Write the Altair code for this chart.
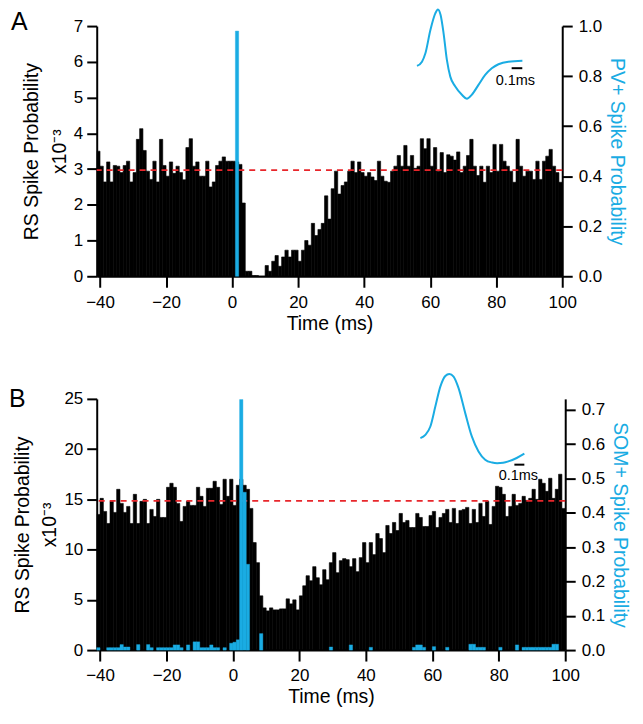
import altair as alt
import pandas as pd

FONT = "Liberation Sans"
BLUE = "#1aace3"
RED = "#e8262b"

# 1-ms bins, start times (ms)
bin_start = list(range(-41, 100))

# ---------------- Panel A (PV+) ----------------
rs_a = [
    3.5, 3.08, 2.64, 3.2, 2.64, 3.1, 3.08, 2.9, 3.1, 3.22,
    2.64, 2.9, 3.83, 4.13, 3.52, 2.94, 2.71, 3.22, 2.64, 3.83,
    3.1, 2.8, 3.2, 2.88, 3.08, 2.9, 2.7, 3.6, 3.85, 3.08,
    3.2, 2.8, 2.8, 3.22, 2.5, 2.64, 3.1, 3.22, 3.34, 3.22,
    3.22,
    3.22, 3.2, 3.13, 2.05, 0.14, 0.14, 0.02, 0.02, 0.0, 0.0,
    0.3, 0.14, 0.42, 0.58, 0.28, 0.54, 0.73, 0.54, 0.73, 0.73,
    0.42, 0.73, 1.0, 0.87, 1.48, 1.14, 1.31, 1.48,
    2.25, 1.6, 2.45, 2.94, 2.3, 2.54, 2.64, 2.94, 3.22, 2.9,
    3.2, 2.9, 2.8, 2.9, 2.78, 2.68, 3.22, 2.8, 2.66, 2.63,
    2.94, 3.08, 3.38, 3.08, 3.66, 3.08, 3.38, 3.02, 3.08, 3.85,
    3.57, 3.85, 3.08, 3.6, 2.94, 3.46, 2.9, 3.4, 3.36, 3.25,
    3.48, 2.9, 3.08, 3.38, 3.83, 3.08, 2.82, 3.08, 2.63, 3.08,
    2.9, 3.69, 2.94, 3.69, 3.22, 3.08, 2.94, 2.63, 3.83, 3.08,
    2.8, 2.94, 2.94, 2.71, 3.22, 2.71, 3.22, 3.36, 3.55, 3.08,
    2.9, 2.63,
]
pv_bin_a = [1]
pv_prob_a = [0.98]
baseline_a = 2.97

wave_a_t = [0, 0.047, 0.079, 0.126, 0.172, 0.197, 0.222, 0.25, 0.281, 0.313,
            0.36, 0.422, 0.469, 0.515, 0.578, 0.641, 0.703, 0.766, 0.859, 0.991]
wave_a_v = [0, 0.076, 0.224, 0.635, 0.929, 1.0, 0.90, 0.577, 0.106, -0.189,
            -0.365, -0.511, -0.582, -0.511, -0.335, -0.159, -0.041, 0.03, 0.076, 0.093]
scalebar_a = [0.89, 0.99, -0.04]      # start, end (ms), level
scalelabel_a = [0.925, -0.26]

# ---------------- Panel B (SOM+) ----------------
rs_b = [
    13.5, 15.1, 13.8, 12.6, 14.8, 13.7, 16.0, 14.6, 13.7, 14.3,
    12.6, 15.5, 12.6, 14.8, 15.0, 12.6, 14.0, 13.3, 15.0, 13.2,
    13.2, 16.2, 16.6, 16.2, 14.6, 12.8, 14.3, 14.8, 14.4, 14.4,
    16.2, 15.3, 14.3, 16.1, 16.1, 16.8, 16.2, 14.5, 17.0, 15.3,
    17.0,
    14.4, 16.4, 17.0, 16.4, 16.0, 14.1, 10.7, 8.7, 5.4,
    4.2, 3.9, 4.2, 4.0, 4.0, 4.1, 4.1, 5.1, 4.6, 5.0,
    4.0, 5.4, 6.4, 7.4, 6.9, 8.3, 7.2,
    6.5, 8.0, 7.0, 8.7, 9.7, 7.7, 8.9, 9.1, 9.0, 8.3,
    9.1, 7.8, 9.2, 10.7, 8.7, 10.7, 9.5, 11.6, 11.1, 9.7,
    12.4, 11.6, 12.7, 11.9, 13.6, 12.7, 12.9, 12.2, 12.2, 13.6,
    13.2, 12.3, 12.3, 13.4, 13.8, 12.2, 13.2, 13.6, 14.0, 12.7,
    14.1, 12.6, 13.9, 14.0, 14.2, 12.6, 14.0, 12.7, 14.6, 13.3,
    14.8, 12.5, 14.3, 16.3, 16.2, 15.5, 13.3, 14.3, 15.5, 14.4,
    14.6, 15.3, 14.9, 15.1, 16.0, 15.0, 17.0, 16.6, 15.8, 17.1,
    15.1, 16.0, 17.5, 14.1,
]
som_bin_b = [-41, -38, -37, -36, -35, -34, -33, -32, -29, -26, -25, -23, -22, -21,
             -20, -19, -18, -17, -16, -14, -12, -11, -10, -9, -8, -7, -6, -5, -3,
             -1, 0, 1, 2, 3, 4, 8, 29, 35, 41, 54, 55, 56, 57, 60, 64, 71, 72,
             73, 74, 75, 80, 85, 87, 88, 89, 90, 91, 92, 93, 94, 95, 96, 97]
som_prob_b = [0.007, 0.007, 0.007, 0.007, 0.007, 0.016, 0.009, 0.009, 0.016, 0.016,
              0.007, 0.007, 0.007, 0.007, 0.007, 0.007, 0.015, 0.015, 0.007, 0.015,
              0.024, 0.024, 0.007, 0.007, 0.007, 0.015, 0.007, 0.007, 0.007,
              0.02, 0.023, 0.03, 0.73, 0.46, 0.25, 0.048, 0.009, 0.015, 0.008,
              0.008, 0.015, 0.015, 0.008, 0.01, 0.008, 0.017, 0.017,
              0.008, 0.008, 0.008, 0.008, 0.015, 0.008, 0.008, 0.008, 0.008,
              0.008, 0.008, 0.008, 0.008, 0.008, 0.017, 0.017]
baseline_b = 14.85

wave_b_t = [0, 0.05, 0.10, 0.15, 0.20, 0.25, 0.29, 0.333, 0.383, 0.45,
            0.516, 0.583, 0.65, 0.72, 0.77, 0.83, 0.883, 0.966, 1.043]
wave_b_v = [0, 0.051, 0.180, 0.491, 0.802, 0.969, 1.0, 0.958, 0.778, 0.389,
            0.025, -0.208, -0.337, -0.382, -0.392, -0.385, -0.364, -0.311, -0.244]
scalebar_b = [0.943, 1.043, -0.415]
scalelabel_b = [0.983, -0.597]

x_ticks = [-40, -20, 0, 20, 40, 60, 80, 100]


def make_panel(letter, letter_pos, rs, p_bins, p_vals, base, left_max, left_ticks,
               right_max, right_ticks, right_title, wt, wv, sbar, slab,
               wave_xrange, wave_yrange, width, height):
    hist_df = pd.DataFrame({"t": bin_start, "t2": [b + 1 for b in bin_start], "rs": rs})
    blue_df = pd.DataFrame({"t": p_bins, "t2": [b + 1 for b in p_bins], "p": p_vals})

    x_scale = alt.Scale(domain=[-41, 100], nice=False, zero=False)
    x_axis = alt.Axis(values=x_ticks, title="Time (ms)", tickSize=11,
                      labelPadding=7, titlePadding=4)
    left_scale = alt.Scale(domain=[0, left_max], nice=False, zero=True)
    left_axis = alt.Axis(values=left_ticks, orient="left",
                         title=["RS Spike Probability", "x10\u207b\u00b3"],
                         labelPadding=4, titlePadding=4, titleLineHeight=28)

    black = alt.Chart(hist_df).mark_bar(color="black", stroke="black",
                                        strokeWidth=0.6, clip=True).encode(
        x=alt.X("t:Q", scale=x_scale, axis=x_axis),
        x2="t2:Q",
        y=alt.Y("rs:Q", scale=left_scale, axis=left_axis),
        y2=alt.datum(0),
    )
    red = alt.Chart(pd.DataFrame({"rs": [base]})).mark_rule(
        color=RED, strokeDash=[6, 5], strokeWidth=1.8).encode(
        y=alt.Y("rs:Q", scale=left_scale, axis=left_axis))
    left_group = alt.layer(black, red)

    blue = alt.Chart(blue_df).mark_bar(color=BLUE, stroke=BLUE, strokeWidth=0.4).encode(
        x=alt.X("t:Q", scale=x_scale, axis=x_axis),
        x2="t2:Q",
        y=alt.Y("p:Q", scale=alt.Scale(domain=[0, right_max], nice=False, zero=True),
                axis=alt.Axis(values=right_ticks, orient="right", format=".1f",
                              title=right_title, titleColor=BLUE,
                              labelPadding=6, titlePadding=5)),
        y2=alt.datum(0),
    )
    hist = alt.layer(left_group, blue).resolve_scale(y="independent")

    wave_df = pd.DataFrame({"t": wt, "v": wv})
    wx = alt.Scale(domain=[0, 1], range=wave_xrange, nice=False, zero=False)
    wy = alt.Scale(domain=[0, 1], range=wave_yrange, nice=False, zero=False)
    wave = alt.Chart(wave_df).mark_line(color=BLUE, strokeWidth=2,
                                        interpolate="monotone").encode(
        x=alt.X("t:Q", scale=wx, axis=None),
        y=alt.Y("v:Q", scale=wy, axis=None),
    )
    sb = alt.Chart(pd.DataFrame({"t": [sbar[0]], "t2": [sbar[1]], "v": [sbar[2]]})).mark_rule(
        color="black", strokeWidth=2).encode(x="t:Q", x2="t2:Q", y="v:Q")
    st = alt.Chart(pd.DataFrame({"t": [slab[0]], "v": [slab[1]], "label": ["0.1ms"]})).mark_text(
        font=FONT, fontSize=14.5, align="center", baseline="middle", color="black").encode(
        x="t:Q", y="v:Q", text="label:N")
    wave_group = alt.layer(wave, sb, st)

    lab = alt.Chart(pd.DataFrame({"label": [letter]})).mark_text(
        font=FONT, fontSize=25, align="left", baseline="alphabetic", color="black").encode(
        x=alt.value(letter_pos[0]), y=alt.value(letter_pos[1]), text="label:N")

    return alt.layer(hist, wave_group, lab).resolve_scale(
        x="independent", y="independent").properties(width=width, height=height)


panel_a = make_panel("A", (-86, 4), rs_a, pv_bin_a, pv_prob_a, baseline_a, 7,
                     [0, 1, 2, 3, 4, 5, 6, 7], 1.0, [0, 0.2, 0.4, 0.6, 0.8, 1.0],
                     "PV+ Spike Probability", wave_a_t, wave_a_v, scalebar_a, scalelabel_a,
                     [321.3, 428.0], [40, -16.7], 467, 251)
panel_b = make_panel("B", (-88, 8.3), rs_b, som_bin_b, som_prob_b, baseline_b, 25,
                     [0, 5, 10, 15, 20, 25], 0.732, [0, 0.1, 0.2, 0.3, 0.4, 0.5, 0.6, 0.7],
                     "SOM+ Spike Probability", wave_b_t, wave_b_v, scalebar_b, scalelabel_b,
                     [324.7, 424.7], [39.3, -25], 470, 252)

chart = alt.vconcat(panel_a, panel_b, spacing=37).properties(
    padding={"left": 1, "top": -4, "right": 5, "bottom": 5}
).configure_axis(
    domainColor="black", domainWidth=2, tickColor="black", tickWidth=2, tickSize=10,
    labelFont=FONT, labelFontSize=17, labelColor="black", labelFlush=False,
    labelOverlap=False, titleFont=FONT, titleFontSize=19.5, titleFontWeight="normal",
    titleColor="black", grid=False,
).configure_view(stroke=None)

chart.save("out.html", embed_options={"renderer": "svg", "actions": False})
